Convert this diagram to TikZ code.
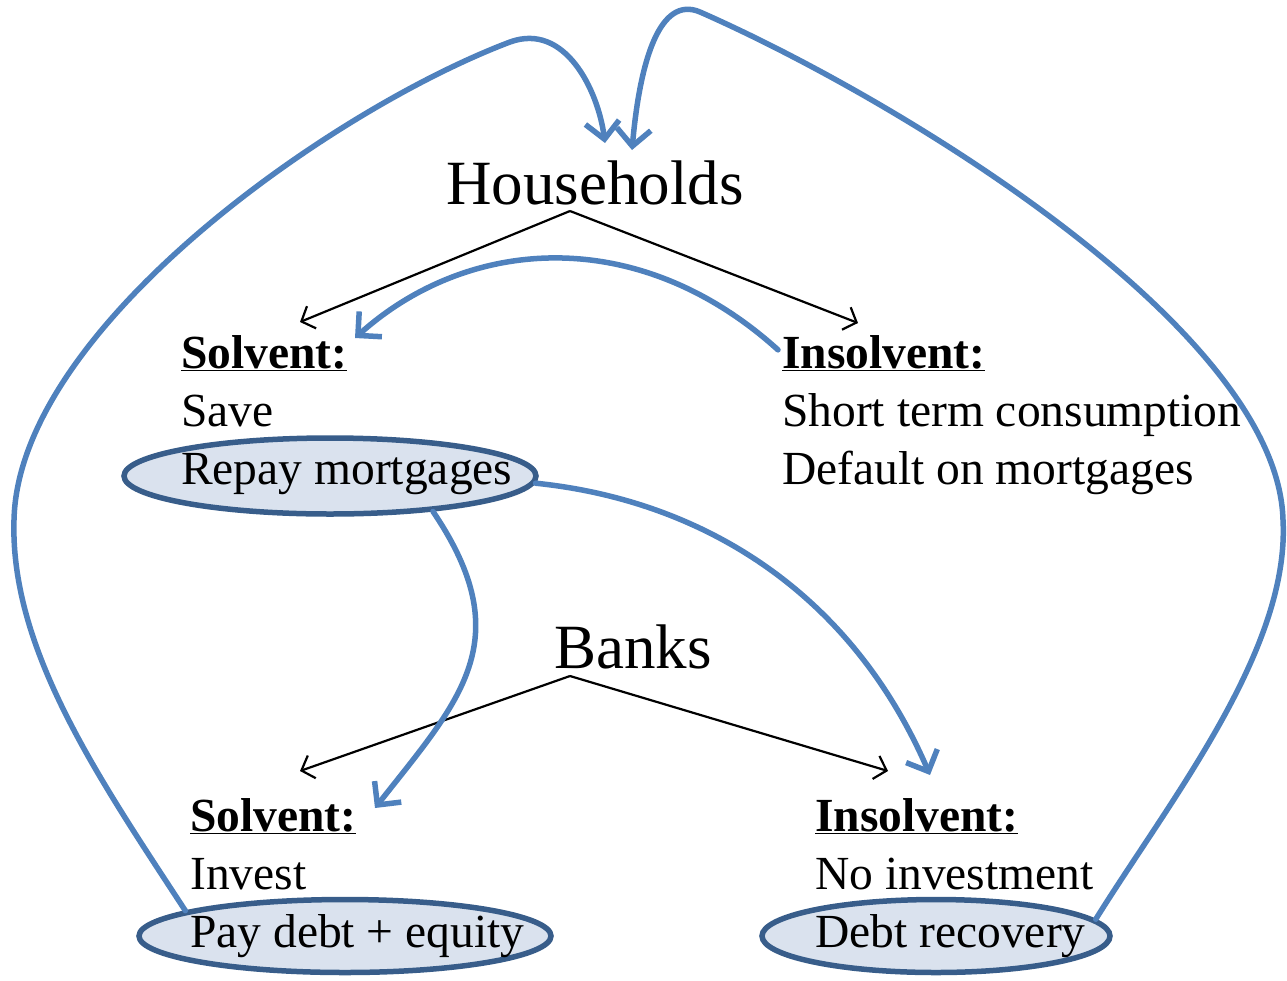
\documentclass[tikz,border=0pt]{standalone}
\usepackage{fontspec}
\IfFontExistsTF{LiberationSerif-Regular.ttf}{%
  \setmainfont{LiberationSerif}[Extension=.ttf, UprightFont=*-Regular, BoldFont=*-Bold, ItalicFont=*-Italic, BoldItalicFont=*-BoldItalic]}{%
  \setmainfont{Liberation Serif}}
\usetikzlibrary{arrows.meta,shapes.geometric}
\definecolor{arrowblue}{HTML}{4F81BD}
\definecolor{ellborder}{HTML}{385D8A}
\definecolor{ellfill}{HTML}{DAE2EE}
\begin{document}
\begin{tikzpicture}[x=1pt,y=-1pt,
 body/.style={anchor=base west, inner sep=0pt, font=\fontsize{47.5}{57}\selectfont},
 head/.style={anchor=base, inner sep=0pt, font=\fontsize{63}{75}\selectfont},
 oval/.style={ellipse, draw=ellborder, line width=5.5pt, fill=ellfill, inner sep=0pt},
 treeline/.style={line width=2.2pt, -{Straight Barb[length=11pt,width=24pt]}},
 flow/.style={arrowblue, line width=5.5pt, line cap=round, -{Straight Barb[length=17pt,width=34pt]}},
]
\useasboundingbox (0,0) rectangle (1287,980);

% headings
\node[head] (hh) at (595,204) {Households};
\node[head] (bk) at (633,668) {Banks};

% highlighted ellipses
\node[oval, minimum width=412pt, minimum height=76pt] (e1) at (330,476) {};
\node[oval, minimum width=412pt, minimum height=73pt] (e3) at (345,936) {};
\node[oval, minimum width=348pt, minimum height=73pt] (e2) at (936,936) {};

% text blocks
\node[body] (hsol) at (181,368) {\textbf{\underline{Solvent:}}};
\node[body] (hsave) at (181,426) {Save};
\node[body] (hrep) at (181,484) {Repay mortgages};
\node[body] (hins) at (782,368) {\textbf{\underline{Insolvent:}}};
\node[body] (hshort) at (782,426) {Short term consumption};
\node[body] (hdef) at (782,484) {Default on mortgages};
\node[body] (bsol) at (190,831) {\textbf{\underline{Solvent:}}};
\node[body] (binv) at (190,889) {Invest};
\node[body] (bpay) at (190,947) {Pay debt + equity};
\node[body] (bins) at (815,831) {\textbf{\underline{Insolvent:}}};
\node[body] (bno) at (815,889) {No investment};
\node[body] (brec) at (815,947) {Debt recovery};

% coordinates
\coordinate (hsplit) at (570,211);
\coordinate (hl) at (300,322);
\coordinate (hr) at (858,323);
\coordinate (bsplit) at (570,676);
\coordinate (bl) at (300,771);
\coordinate (br) at (888,771);
\coordinate (tipA) at (605,143);
\coordinate (tipB) at (632,150);
\coordinate (tipC) at (355,338);
\coordinate (tipD) at (930,775);
\coordinate (tipE) at (375,808);

% tree lines
\draw[treeline] (hsplit) -- (hl);
\draw[treeline] (hsplit) -- (hr);
\draw[treeline] (bsplit) -- (bl);
\draw[treeline] (bsplit) -- (br);

% blue flows
\draw[flow] (e3.171) .. controls (100,780) and (10,650) .. (14,520)
  .. controls (18,330) and (330,110) .. (510,42)
  .. controls (565,22) and (598,90) .. (tipA);
\draw[flow] (e2.6) .. controls (1170,800) and (1290,650) .. (1283,520)
  .. controls (1278,330) and (900,100) .. (700,12)
  .. controls (660,-5) and (640,60) .. (tipB);
\draw[flow] ([xshift=-4pt,yshift=3pt]hins.west) .. controls (640,225) and (470,235) .. (tipC);
\draw[flow] (e1.-2) .. controls (700,500) and (850,590) .. (tipD);
\draw[flow] (e1.-19) .. controls (520,640) and (460,700) .. (tipE);
\end{tikzpicture}
\end{document}
